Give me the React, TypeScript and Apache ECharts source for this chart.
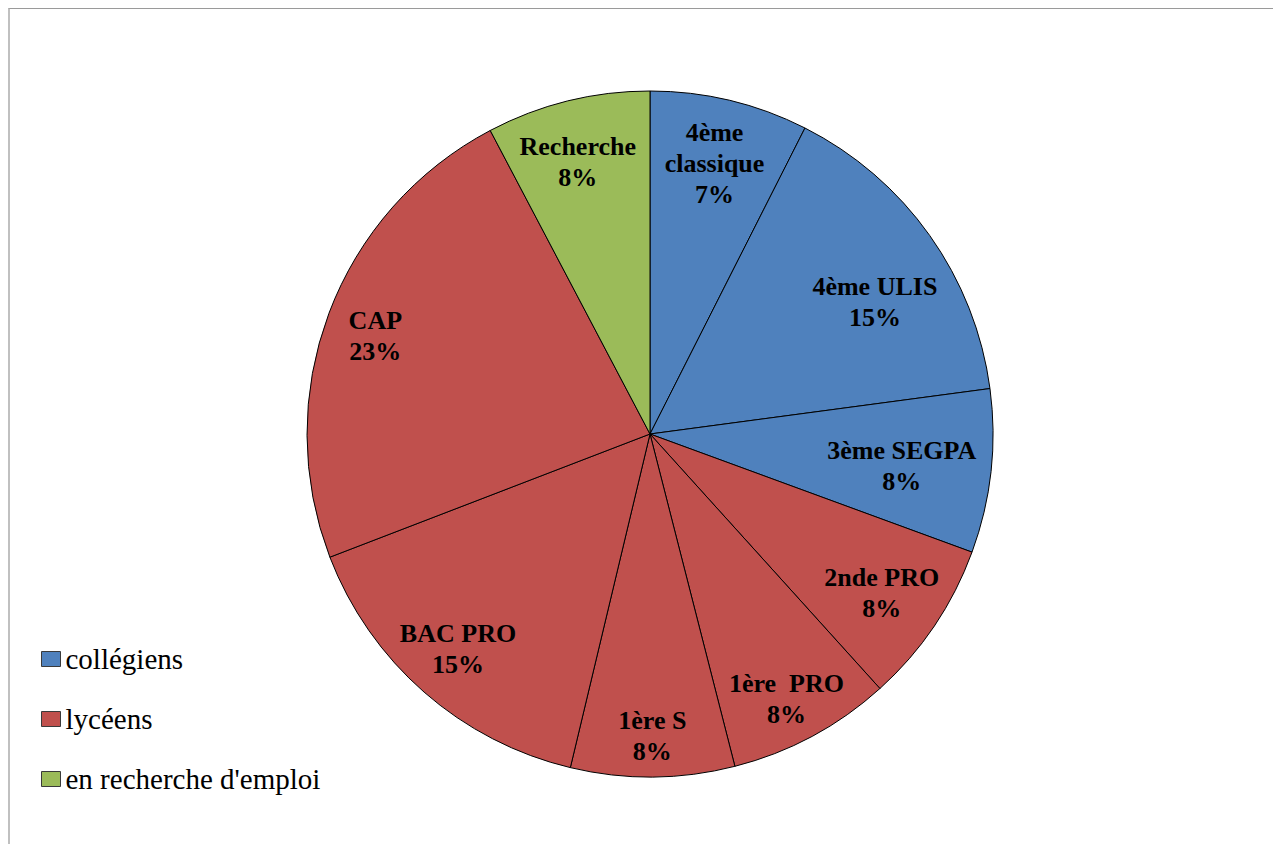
import React, { useEffect, useRef } from "react";
import * as echarts from "echarts";

// ---- data ----
const categories = [
  "4ème\nclassique",
  "4ème ULIS",
  "3ème SEGPA",
  "2nde PRO",
  "1ère  PRO",
  "1ère S",
  "BAC PRO",
  "CAP",
  "Recherche",
];
const shares = [7.45, 15.4, 7.7, 7.7, 7.7, 7.7, 15.4, 23.1, 7.7];
const groupOf = [
  "collégiens",
  "collégiens",
  "collégiens",
  "lycéens",
  "lycéens",
  "lycéens",
  "lycéens",
  "lycéens",
  "en recherche d'emploi",
];
const groups = ["collégiens", "lycéens", "en recherche d'emploi"];
const groupColors = ["#4F81BD", "#C0504D", "#9BBB59"];

// ---- style: label distance from centre (fraction of radius) and angular nudge (deg) ----
const labelRadius = [0.81, 0.76, 0.74, 0.82, 0.87, 0.88, 0.84, 0.85, 0.82];
const labelAngleNudge = [0, 5, 1, 0.5, 1, 0, 0.6, -1, -1];

const FONT = "'Liberation Serif', 'Times New Roman', serif";
const R = 343;
const CENTER: [number, number] = [640, 425];

export default function App() {
  const ref = useRef<HTMLDivElement>(null);

  useEffect(() => {
    if (!ref.current) return;
    const chart = echarts.init(ref.current, undefined, { renderer: "svg" });

    const total = shares.reduce((a, b) => a + b, 0);
    const mids: number[] = [];
    let cum = 0;
    shares.forEach((v) => {
      mids.push(((cum + v / 2) / total) * 2 * Math.PI);
      cum += v;
    });

    chart.setOption({
      animation: false,
      legend: {
        orient: "vertical",
        left: 26,
        top: 630,
        data: groups,
        icon: "rect",
        itemWidth: 19,
        itemHeight: 15,
        itemGap: 30,
        selectedMode: false,
        itemStyle: { borderColor: "#3a3a3a", borderWidth: 1 },
        textStyle: { fontFamily: FONT, fontSize: 29, color: "#000", lineHeight: 30 },
      },
      series: [
        {
          type: "pie",
          center: CENTER,
          radius: [0, R],
          startAngle: 90,
          clockwise: true,
          silent: true,
          avoidLabelOverlap: false,
          itemStyle: { borderColor: "#000", borderWidth: 1 },
          label: {
            show: true,
            position: "inside",
            fontFamily: FONT,
            fontSize: 26,
            fontWeight: "bold",
            color: "#000",
            lineHeight: 31,
            align: "center",
            formatter: (p: any) => `${p.name}\n${Math.round(p.percent)}%`,
          },
          labelLine: { show: false },
          labelLayout: (params: any) => {
            const i = params.dataIndex;
            const m = mids[i];
            const a = m + (labelAngleNudge[i] * Math.PI) / 180;
            const base = 0.5 * R + 3;
            const want = labelRadius[i] * R;
            return {
              dx: want * Math.sin(a) - base * Math.sin(m),
              dy: -want * Math.cos(a) + base * Math.cos(m),
            };
          },
          data: categories.map((name, i) => ({
            name,
            value: shares[i],
            itemStyle: { color: groupColors[groups.indexOf(groupOf[i])] },
          })),
        },
        {
          type: "pie",
          name: "legend",
          center: CENTER,
          radius: [0, 0],
          stillShowZeroSum: false,
          silent: true,
          label: { show: false },
          labelLine: { show: false },
          data: groups.map((g, i) => ({ name: g, value: 0, itemStyle: { color: groupColors[i] } })),
        },
      ],
    });

    return () => chart.dispose();
  }, []);

  return (
    <div
      style={{
        width: 1263,
        height: 835,
        borderTop: "1px solid #9a9a9a",
        borderLeft: "2px solid #c0c0c0",
      }}
    >
      <div ref={ref} style={{ width: 1263, height: 835 }} />
    </div>
  );
}
